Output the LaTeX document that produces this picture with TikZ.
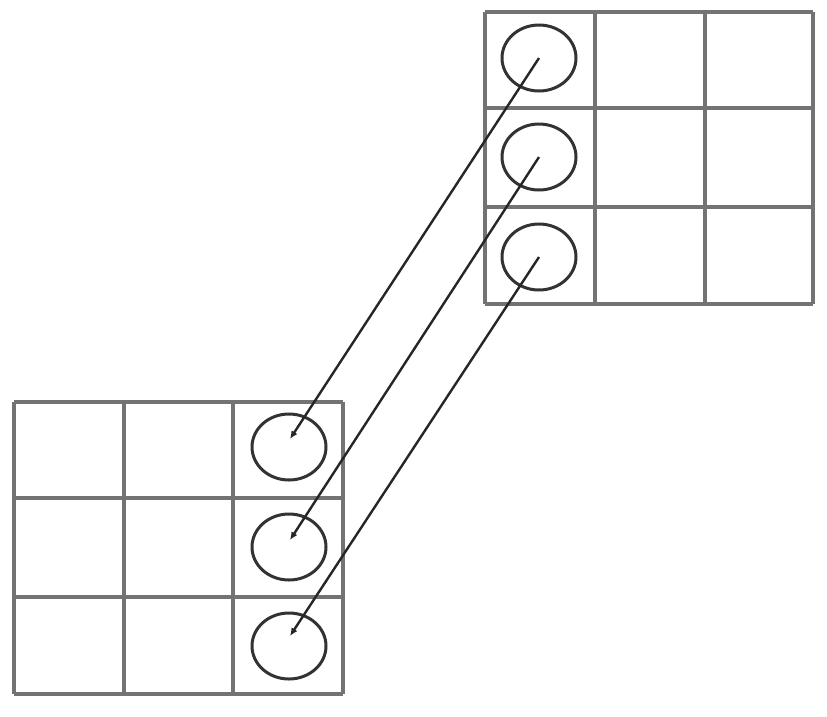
\documentclass[tikz,border=0pt]{standalone}
\usetikzlibrary{shapes.geometric,arrows.meta}
\begin{document}
\begin{tikzpicture}[x=1pt,y=-1pt,
  gridline/.style={draw=black!55,line width=3.4pt},
  ring/.style={draw=black!80,line width=3pt,ellipse,minimum width=74pt,minimum height=66pt,inner sep=0pt},
  link/.style={draw=black!85,line width=2.4pt,-{Latex[length=8pt,width=7pt]}}]
\useasboundingbox (0,0) rectangle (827,716);
% top-right grid
\foreach \x in {485,595,705,813} \draw[gridline] (\x,12) -- (\x,304);
\foreach \y in {12,108,207,304} \draw[gridline] (485,\y) -- (813,\y);
% bottom-left grid
\foreach \x in {14,124,233,343} \draw[gridline] (\x,402) -- (\x,694);
\foreach \y in {402,498,597,694} \draw[gridline] (14,\y) -- (343,\y);
% circles
\node[ring] (a1) at (539,58) {};
\node[ring] (a2) at (539,157) {};
\node[ring] (a3) at (539,257) {};
\node[ring] (b1) at (289,447) {};
\node[ring] (b2) at (289,547) {};
\node[ring] (b3) at (289,646) {};
\coordinate (e1) at (290,439);
\coordinate (e2) at (290,540);
\coordinate (e3) at (290,636);
\draw[link] (a1.center) -- (e1);
\draw[link] (a2.center) -- (e2);
\draw[link] (a3.center) -- (e3);
\end{tikzpicture}
\end{document}
